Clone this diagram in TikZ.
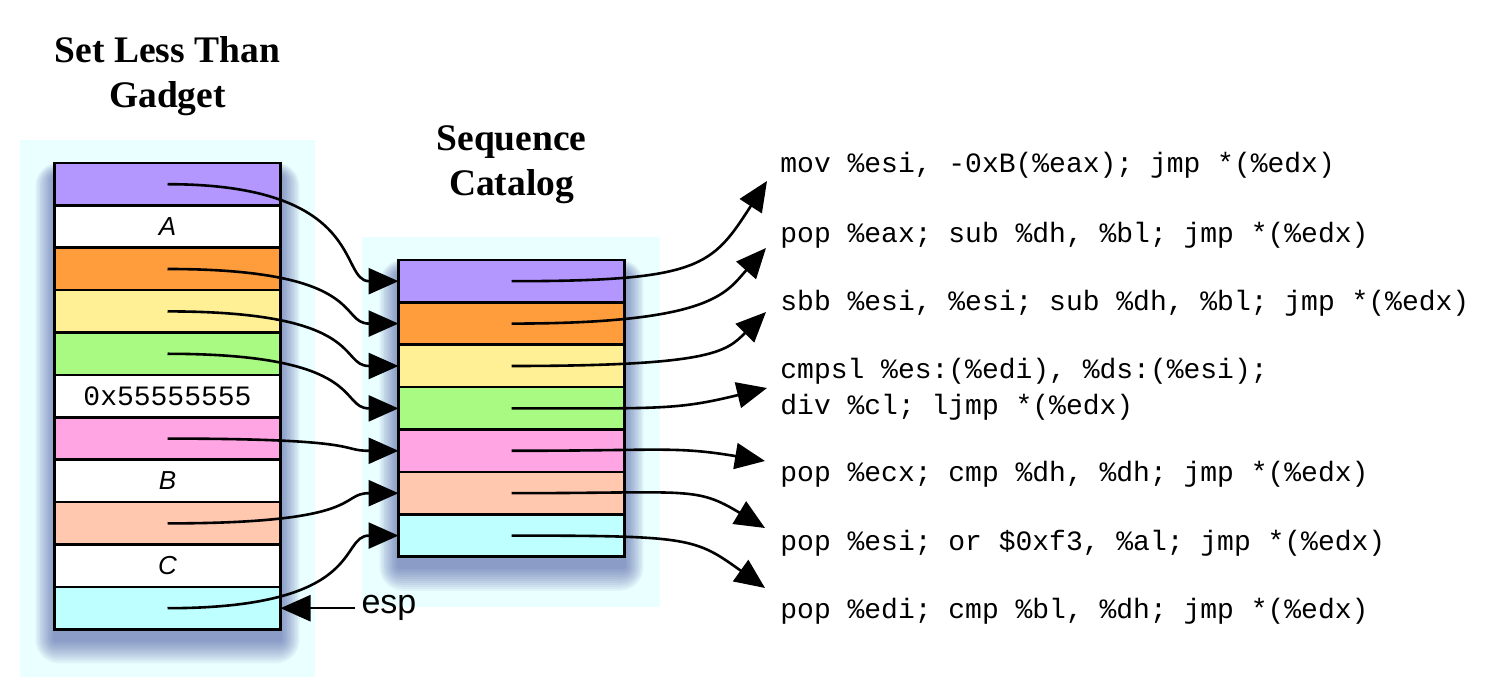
\documentclass[tikz,border=0pt]{standalone}
\usepackage{fontspec}
\setmainfont{Liberation Serif}
\setsansfont{Liberation Sans}
\setmonofont{Liberation Mono}
\usetikzlibrary{arrows.meta,positioning,backgrounds}

\definecolor{cellviolet}{RGB}{180,150,255}
\definecolor{cellorange}{RGB}{255,157,60}
\definecolor{cellyellow}{RGB}{255,240,150}
\definecolor{cellgreen}{RGB}{168,250,130}
\definecolor{cellpink}{RGB}{255,165,228}
\definecolor{cellpeach}{RGB}{255,200,175}
\definecolor{cellcyan}{RGB}{190,255,255}
\definecolor{panelcyan}{RGB}{234,255,255}
\definecolor{shadowblue}{RGB}{50,65,150}

\tikzset{
  cell/.style={draw, line width=1.3pt, minimum width=113pt, minimum height=21.2pt,
    outer sep=0pt, inner sep=0pt},
  slot/.style={font=\sffamily\itshape\fontsize{13pt}{15pt}\selectfont},
  softshadow/.style={fill=shadowblue, fill opacity=0.055, rounded corners=#1 pt},
  title/.style={font=\rmfamily\bfseries\fontsize{18.75pt}{22.5pt}\selectfont,
    align=center, anchor=base},
  code/.style={font=\ttfamily\fontsize{14pt}{18pt}\selectfont, anchor=base west,
    inner sep=0pt, align=left},
  conn/.style={line width=1.3pt, -{Triangle[length=15pt,width=13pt]}},
}

\begin{document}
\begin{tikzpicture}[x=0.5pt,y=-0.5pt]
  \useasboundingbox (0,0) rectangle (1490,689);

  \node[title] (gadget) at (167.5,108) {Set Less Than\\Gadget};
  \node[title] (catalog) at (511.5,196) {Sequence\\Catalog};

  % gadget stack
  \node[cell, fill=cellviolet] (s1) at (167.5,184.2) {};
  \node[cell, fill=white, slot, below=0pt of s1] (s2) {A};
  \node[cell, fill=cellorange, below=0pt of s2] (s3) {};
  \node[cell, fill=cellyellow, below=0pt of s3] (s4) {};
  \node[cell, fill=cellgreen, below=0pt of s4] (s5) {};
  \node[cell, fill=white, font=\ttfamily\fontsize{14pt}{16pt}\selectfont, below=0pt of s5] (s6) {0x55555555};
  \node[cell, fill=cellpink, below=0pt of s6] (s7) {};
  \node[cell, fill=white, slot, below=0pt of s7] (s8) {B};
  \node[cell, fill=cellpeach, below=0pt of s8] (s9) {};
  \node[cell, fill=white, slot, below=0pt of s9] (s10) {C};
  \node[cell, fill=cellcyan, below=0pt of s10] (s11) {};

  % sequence catalog
  \node[cell, fill=cellviolet] (q1) at (511.5,281.2) {};
  \node[cell, fill=cellorange, below=0pt of q1] (q2) {};
  \node[cell, fill=cellyellow, below=0pt of q2] (q3) {};
  \node[cell, fill=cellgreen, below=0pt of q3] (q4) {};
  \node[cell, fill=cellpink, below=0pt of q4] (q5) {};
  \node[cell, fill=cellpeach, below=0pt of q5] (q6) {};
  \node[cell, fill=cellcyan, below=0pt of q6] (q7) {};

  \begin{scope}[on background layer]
    \fill[panelcyan] (20,140) rectangle (315,677);
    \fill[panelcyan] (362,237) rectangle (660,607);
    % soft shadows below the stacks
    \foreach \r in {1,...,12} {
      \path[softshadow=\r] ([xshift=-0.8*\r pt, yshift=0.6*\r pt-7pt]s1.north west)
        rectangle ([xshift=0.8*\r pt, yshift=-\r pt-5pt]s11.south east);
      \path[softshadow=\r] ([xshift=-0.8*\r pt, yshift=0.6*\r pt-7pt]q1.north west)
        rectangle ([xshift=0.8*\r pt, yshift=-\r pt-5pt]q7.south east);
    }
  \end{scope}

  % instruction sequences
  \node[code] (i1) at (780,173) {mov \%esi, -0xB(\%eax); jmp *(\%edx)};
  \node[code] (i2) at (780,243) {pop \%eax; sub \%dh, \%bl; jmp *(\%edx)};
  \node[code] (i3) at (780,311) {sbb \%esi, \%esi; sub \%dh, \%bl; jmp *(\%edx)};
  \node[code] (i4) at (780,415) {cmpsl \%es:(\%edi), \%ds:(\%esi);\\div \%cl; ljmp *(\%edx)};
  \node[code] (i5) at (780,482) {pop \%ecx; cmp \%dh, \%dh; jmp *(\%edx)};
  \node[code] (i6) at (780,551) {pop \%esi; or \$0xf3, \%al; jmp *(\%edx)};
  \node[code] (i7) at (780,619) {pop \%edi; cmp \%bl, \%dh; jmp *(\%edx)};

  \coordinate (e1) at (767,181);
  \coordinate (e2) at (766,248);
  \coordinate (e3) at (766,312);
  \coordinate (e4) at (767,388);
  \coordinate (e5) at (765,461);
  \coordinate (e6) at (765,528);
  \coordinate (e7) at (765,588);

  % gadget -> catalog
  \draw[conn] (s1.center) .. controls +(200,0) and +(-60,0) .. (q1.west);
  \draw[conn] (s3.center) .. controls +(200,0) and +(-60,0) .. (q2.west);
  \draw[conn] (s4.center) .. controls +(200,0) and +(-60,0) .. (q3.west);
  \draw[conn] (s5.center) .. controls +(200,0) and +(-60,0) .. (q4.west);
  \draw[conn] (s7.center) .. controls +(200,0) and +(-60,0) .. (q5.west);
  \draw[conn] (s9.center) .. controls +(200,0) and +(-60,0) .. (q6.west);
  \draw[conn] (s11.center) .. controls +(200,0) and +(-60,0) .. (q7.west);

  % catalog -> instructions
  \draw[conn] (q1.center) .. controls +(190,0) and +(-55,85) .. (e1);
  \draw[conn] (q2.center) .. controls +(200,0) and +(-40,45) .. (e2);
  \draw[conn] (q3.center) .. controls +(200,0) and +(-40,40) .. (e3);
  \draw[conn] (q4.center) .. controls +(150,0) and +(-90,22) .. (e4);
  \draw[conn] (q5.center) .. controls +(150,0) and +(-90,-15) .. (e5);
  \draw[conn] (q6.center) .. controls +(180,0) and +(-70,-42) .. (e6);
  \draw[conn] (q7.center) .. controls +(180,0) and +(-70,-50) .. (e7);

  \node[font=\sffamily\fontsize{17pt}{20pt}\selectfont, anchor=west] (esp)
    at ([xshift=37pt]s11.east) {esp};
  \draw[conn] (esp.west) -- (s11.east);
\end{tikzpicture}
\end{document}
